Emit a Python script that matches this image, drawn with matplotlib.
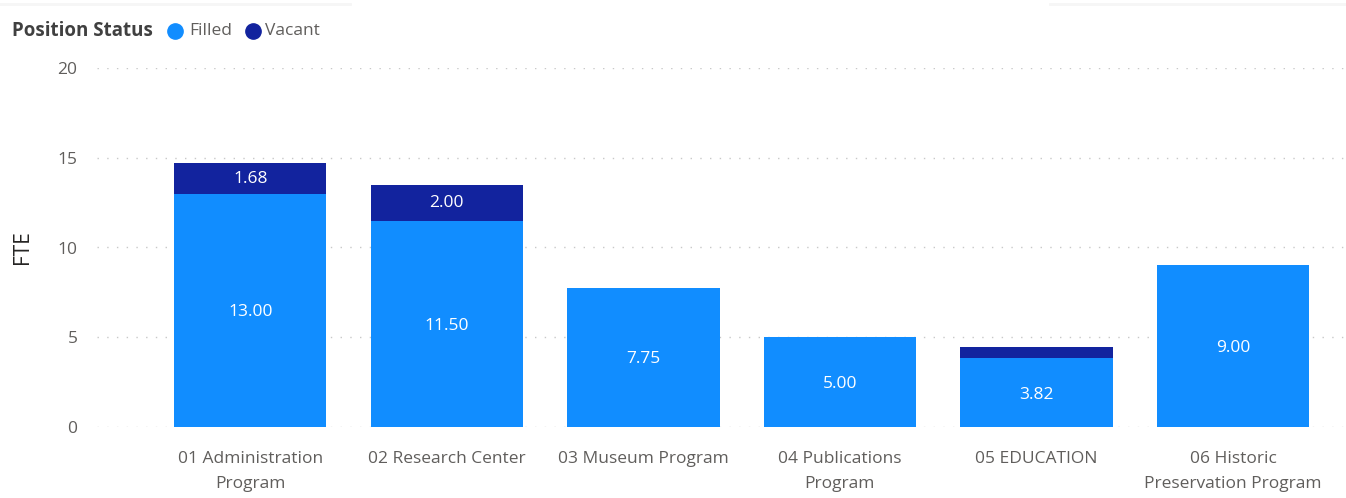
import matplotlib
matplotlib.use("Agg")
import matplotlib.pyplot as plt
from matplotlib.lines import Line2D

categories = ["01 Administration\nProgram", "02 Research Center", "03 Museum Program",
              "04 Publications\nProgram", "05 EDUCATION", "06 Historic\nPreservation Program"]
filled = [13.00, 11.50, 7.75, 5.00, 3.82, 9.00]
vacant = [1.68, 2.00, 0.0, 0.0, 0.66, 0.0]
yticks = [0, 5, 10, 15, 20]
series_names = ["Filled", "Vacant"]

FILLED_C = "#118DFF"
VACANT_C = "#12239E"

plt.rcParams['font.family'] = ['Open Sans', 'DejaVu Sans']

W, H = 1346, 498
fig = plt.figure(figsize=(W / 100, H / 100), dpi=100)
ax = fig.add_axes([97/W, 71/H, 1248/W, 359/H])

x = list(range(len(categories)))
w = 0.775
ax.bar(x, filled, width=w, color=FILLED_C, zorder=3)
ax.bar(x, vacant, width=w, bottom=filled, color=VACANT_C, zorder=3)

for xi, f, v in zip(x, filled, vacant):
    ax.text(xi, f / 2 - 0.1, f"{f:.2f}", ha="center", va="center", color="white", fontsize=12.5, zorder=4)
    if v > 1.0:
        ax.text(xi, f + v / 2, f"{v:.2f}", ha="center", va="center", color="white", fontsize=12.5, zorder=4)

ax.set_ylim(0, 20)
ax.set_xlim(-0.78, 5.57)
ax.set_yticks(yticks)
ax.set_yticklabels([str(t) for t in yticks])
ax.set_xticks(x)
ax.set_xticklabels(categories, fontsize=12.5, color="#605E5C", linespacing=1.75, va="top")
ax.tick_params(axis="y", length=0, labelsize=12.5, labelcolor="#605E5C", pad=14)
ax.tick_params(axis="x", length=0, pad=17)
for s in ax.spines.values():
    s.set_visible(False)
ax.grid(axis="y", color="#C8C8C8", linestyle=(0, (1, 6)), linewidth=1.0, zorder=0)
ax.set_axisbelow(True)
ax.set_ylabel("FTE", fontsize=15, color="#252423", labelpad=18)

# legend (manual)
ly = 1 - 31/H
fig.text(12/W, ly, "Position Status", fontsize=13.5, fontweight="bold",
         color="#404040", va="center", ha="left")
for cx, tx, name, col in [(175, 189, series_names[0], FILLED_C), (253, 265, series_names[1], VACANT_C)]:
    fig.add_artist(Line2D([cx/W], [ly], marker="o", markersize=11, linestyle="", color=col))
    fig.text(tx/W, ly, name, fontsize=12.5, color="#605E5C", va="center", ha="left")

# faint header lines
fig.add_artist(Line2D([0, 350/W], [1 - 4/H, 1 - 4/H], color="#F6F6F6", linewidth=2))
fig.add_artist(Line2D([1050/W, 1], [1 - 4/H, 1 - 4/H], color="#F6F6F6", linewidth=2))

fig.savefig("out.png", dpi=100)
